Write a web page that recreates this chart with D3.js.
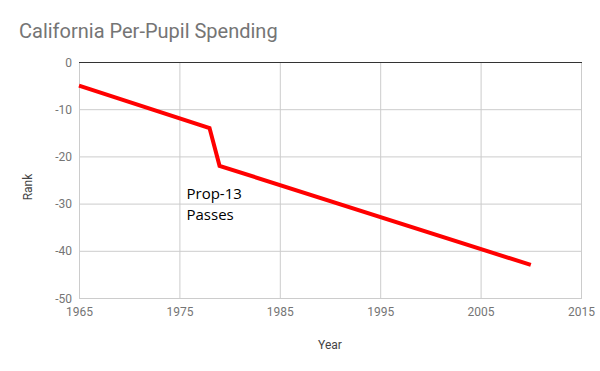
<!DOCTYPE html>
<html lang="en">
<head>
<meta charset="utf-8">
<title>California Per-Pupil Spending</title>
<script src="https://d3js.org/d3.v7.min.js"></script>
<style>
  body { margin: 0; background: #fff; }
  svg { display: block; }
</style>
</head>
<body>
<div id="chart"></div>
<script>
// data
var years = [1965, 1978, 1979, 2010];
var ranks = [-5, -14, -22, -43];
var xTicks = [1965, 1975, 1985, 1995, 2005, 2015];
var yTicks = [0, -10, -20, -30, -40, -50];
var noteLines = ["Prop-13", "Passes"];

var W = 600, H = 371;
var svg = d3.select("#chart").append("svg").attr("width", W).attr("height", H);

var x = d3.scaleLinear().domain([1965, 2015]).range([79, 581]);
var y = d3.scaleLinear().domain([0, -50]).range([62, 298]);

// title
svg.append("text")
  .attr("x", 19).attr("y", 38)
  .style("font-family", "Roboto, sans-serif")
  .style("font-size", "20px")
  .style("fill", "#757575")
  .text("California Per-Pupil Spending");

// grid lines
svg.selectAll(".vgrid").data(xTicks).enter().append("line")
  .attr("x1", d => x(d) + 0.5).attr("x2", d => x(d) + 0.5)
  .attr("y1", y(0)).attr("y2", y(-50))
  .attr("stroke", "#cccccc").attr("stroke-width", 1);
svg.selectAll(".hgrid").data(yTicks).enter().append("line")
  .attr("x1", x(1965)).attr("x2", x(2015) + 1)
  .attr("y1", d => y(d) + 0.5).attr("y2", d => y(d) + 0.5)
  .attr("stroke", d => d === 0 ? "#333333" : "#cccccc")
  .attr("stroke-width", 1);

// tick labels
svg.selectAll(".ylab").data(yTicks).enter().append("text")
  .attr("x", 72).attr("y", d => y(d) + 4.5)
  .attr("text-anchor", "end")
  .style("font-family", "Roboto, sans-serif")
  .style("font-size", "12px")
  .style("fill", "#757575")
  .text(d => d);
svg.selectAll(".xlab").data(xTicks).enter().append("text")
  .attr("x", d => x(d) + 0.5).attr("y", 316)
  .attr("text-anchor", "middle")
  .style("font-family", "Roboto, sans-serif")
  .style("font-size", "12px")
  .style("fill", "#757575")
  .text(d => d);

// axis titles
svg.append("text")
  .attr("x", (x(1965) + x(2015)) / 2).attr("y", 349)
  .attr("text-anchor", "middle")
  .style("font-family", "Roboto, sans-serif")
  .style("font-size", "12px")
  .style("fill", "#444")
  .text("Year");
svg.append("text")
  .attr("transform", "translate(32," + 187 + ") rotate(-90)")
  .attr("text-anchor", "middle")
  .style("font-family", "Roboto, sans-serif")
  .style("font-size", "12px")
  .style("fill", "#444")
  .text("Rank");

// the line
var pts = years.map((d, i) => [d, ranks[i]]);
svg.append("path")
  .datum(pts)
  .attr("fill", "none")
  .attr("stroke", "#ff0000")
  .attr("stroke-width", 4)
  .attr("stroke-linejoin", "miter")
  .attr("d", d3.line().x(d => x(d[0])).y(d => y(d[1])));

// annotation
svg.selectAll(".note").data(noteLines).enter().append("text")
  .attr("x", 186.5).attr("y", (d, i) => 199 + i * 21)
  .style("font-family", "'Open Sans', sans-serif")
  .style("font-size", "15px")
  .style("fill", "#000")
  .text(d => d);
</script>
</body>
</html>
